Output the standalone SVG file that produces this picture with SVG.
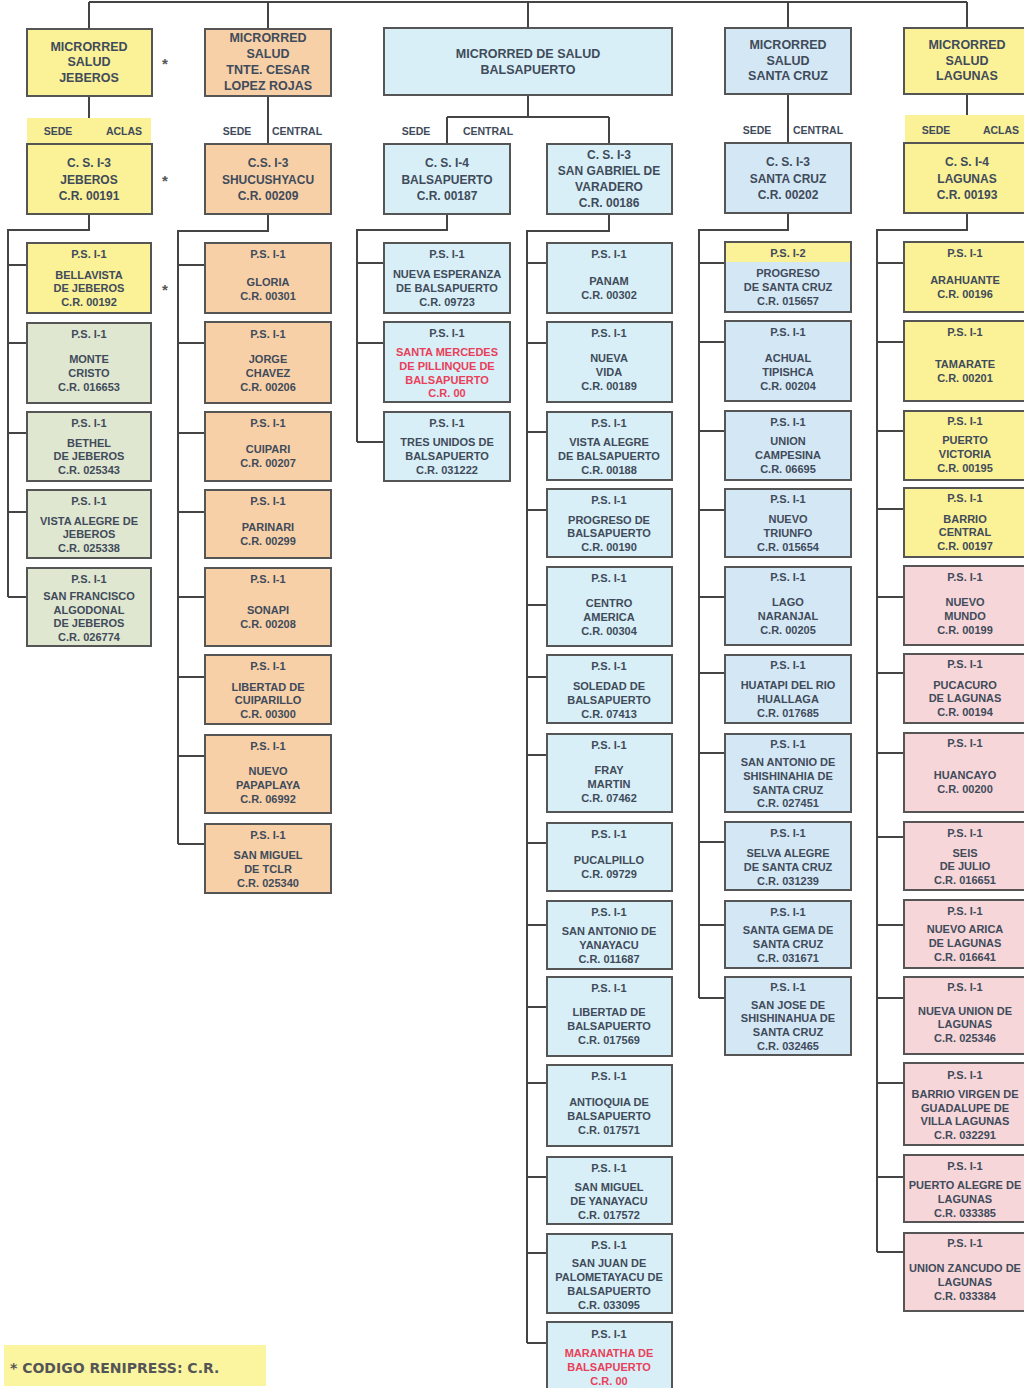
<svg xmlns="http://www.w3.org/2000/svg" width="1024" height="1388" viewBox="0 0 1024 1388">
<style>
text{font-family:"Liberation Sans",Arial,sans-serif;font-weight:bold;fill:#3f4b5a;text-anchor:middle}
.t{font-size:12.5px}.c{font-size:12px}.s{font-size:11px}.l{font-size:10.5px}
.r{fill:#e8405a}
.box{stroke:#555;stroke-width:2}
.y{fill:#fbf197}.o{fill:#f7d0a8}.b{fill:#d8eff7}.z{fill:#d4e7f5}.g{fill:#dfe7d1}.p{fill:#f6d6d9}
.ast{font-size:15px;fill:#555}
#connectors path{fill:none;stroke:#444;stroke-width:2}
</style>
<rect width="1024" height="1388" fill="#fff"/>
<g id="connectors">
<path d="M89 2H967M89 2V29M268 2V29M528 2V28M788 2V28M967 2V28"/>
<path d="M89 96V144M268 96V144M528 95V117M447 117H609M447 117V144M609 117V144M788 94V143M967 94V143"/>
<path d="M89 214V230H8V597M8 265H27M8 343H27M8 433H27M8 512H27M8 597H27"/>
<path d="M268 214V231H178V844M178 265H205M178 343H205M178 433H205M178 512H205M178 597H205M178 677H205M178 756H205M178 844H205"/>
<path d="M447 214V230H357V442M357 263H384M357 343H384M357 442H384"/>
<path d="M609 214V231H527V1343M527 263H547M527 343H547M527 432H547M527 510H547M527 605H547M527 677H547M527 755H547M527 843H547M527 925H547M527 1007H547M527 1083H547M527 1177H547M527 1253H547M527 1343H547"/>
<path d="M788 213V230H699V998M699 263H725M699 342H725M699 431H725M699 510H725M699 597H725M699 673H725M699 753H725M699 842H725M699 925H725M699 998H725"/>
<path d="M967 213V230H877V1252M877 263H904M877 342H904M877 431H904M877 509H904M877 597H904M877 673H904M877 753H904M877 837H904M877 925H904M877 998H904M877 1083H904M877 1177H904M877 1252H904"/>
</g>

<!-- Labels SEDE -->
<g id="sede-jeberos"><rect x="27" y="118" width="124" height="25" class="y"/><text class="l" x="58" y="135">SEDE</text><text class="l" x="124" y="135">ACLAS</text></g>
<g id="sede-tnte"><text class="l" x="237" y="135">SEDE</text><text class="l" x="297" y="135">CENTRAL</text></g>
<g id="sede-balsa"><text class="l" x="416" y="135">SEDE</text><text class="l" x="488" y="135">CENTRAL</text></g>
<g id="sede-santacruz"><text class="l" x="757" y="134">SEDE</text><text class="l" x="818" y="134">CENTRAL</text></g>
<g id="sede-lagunas"><rect x="905" y="115" width="119" height="27" class="y"/><text class="l" x="936" y="134">SEDE</text><text class="l" x="1001" y="134">ACLAS</text></g>
<g id="asterisks"><text class="ast" x="165" y="69">*</text><text class="ast" x="165" y="186">*</text><text class="ast" x="165" y="295">*</text></g>

<!-- Column 1 -->
<g id="mr-jeberos"><rect class="box y" x="27" y="29" width="125" height="67"/><text class="t" x="89" y="51">MICRORRED</text><text class="t" x="89" y="66">SALUD</text><text class="t" x="89" y="82">JEBEROS</text></g>
<g id="cs-jeberos"><rect class="box y" x="27" y="144" width="125" height="70"/><text class="c" x="89" y="167">C. S. I-3</text><text class="c" x="89" y="184">JEBEROS</text><text class="c" x="89" y="200">C.R. 00191</text></g>
<g id="ps-bellavista"><rect class="box y" x="27" y="243" width="124" height="70"/><text class="s" x="89" y="258">P.S. I-1</text><text class="s" x="89" y="279">BELLAVISTA</text><text class="s" x="89" y="292">DE JEBEROS</text><text class="s" x="89" y="306">C.R. 00192</text></g>
<g id="ps-montecristo"><rect class="box g" x="27" y="323" width="124" height="80"/><text class="s" x="89" y="338">P.S. I-1</text><text class="s" x="89" y="363">MONTE</text><text class="s" x="89" y="377">CRISTO</text><text class="s" x="89" y="391">C.R. 016653</text></g>
<g id="ps-bethel"><rect class="box g" x="27" y="412" width="124" height="69"/><text class="s" x="89" y="427">P.S. I-1</text><text class="s" x="89" y="447">BETHEL</text><text class="s" x="89" y="460">DE JEBEROS</text><text class="s" x="89" y="474">C.R. 025343</text></g>
<g id="ps-vistaalegre-j"><rect class="box g" x="27" y="490" width="124" height="68"/><text class="s" x="89" y="505">P.S. I-1</text><text class="s" x="89" y="525">VISTA ALEGRE DE</text><text class="s" x="89" y="538">JEBEROS</text><text class="s" x="89" y="552">C.R. 025338</text></g>
<g id="ps-sanfrancisco"><rect class="box g" x="27" y="568" width="124" height="78"/><text class="s" x="89" y="583">P.S. I-1</text><text class="s" x="89" y="600">SAN FRANCISCO</text><text class="s" x="89" y="614">ALGODONAL</text><text class="s" x="89" y="627">DE JEBEROS</text><text class="s" x="89" y="641">C.R. 026774</text></g>

<!-- Column 2 -->
<g id="mr-tnte"><rect class="box o" x="205" y="29" width="126" height="67"/><text class="t" x="268" y="42">MICRORRED</text><text class="t" x="268" y="58">SALUD</text><text class="t" x="268" y="74">TNTE. CESAR</text><text class="t" x="268" y="90">LOPEZ ROJAS</text></g>
<g id="cs-shucushyacu"><rect class="box o" x="205" y="144" width="126" height="70"/><text class="c" x="268" y="167">C.S. I-3</text><text class="c" x="268" y="184">SHUCUSHYACU</text><text class="c" x="268" y="200">C.R. 00209</text></g>
<g id="ps-gloria"><rect class="box o" x="205" y="243" width="126" height="70"/><text class="s" x="268" y="258">P.S. I-1</text><text class="s" x="268" y="286">GLORIA</text><text class="s" x="268" y="300">C.R. 00301</text></g>
<g id="ps-jorgechavez"><rect class="box o" x="205" y="322" width="126" height="81"/><text class="s" x="268" y="338">P.S. I-1</text><text class="s" x="268" y="363">JORGE</text><text class="s" x="268" y="377">CHAVEZ</text><text class="s" x="268" y="391">C.R. 00206</text></g>
<g id="ps-cuipari"><rect class="box o" x="205" y="412" width="126" height="69"/><text class="s" x="268" y="427">P.S. I-1</text><text class="s" x="268" y="453">CUIPARI</text><text class="s" x="268" y="467">C.R. 00207</text></g>
<g id="ps-parinari"><rect class="box o" x="205" y="490" width="126" height="68"/><text class="s" x="268" y="505">P.S. I-1</text><text class="s" x="268" y="531">PARINARI</text><text class="s" x="268" y="545">C.R. 00299</text></g>
<g id="ps-sonapi"><rect class="box o" x="205" y="568" width="126" height="78"/><text class="s" x="268" y="583">P.S. I-1</text><text class="s" x="268" y="614">SONAPI</text><text class="s" x="268" y="628">C.R. 00208</text></g>
<g id="ps-libertadcuiparillo"><rect class="box o" x="205" y="655" width="126" height="69"/><text class="s" x="268" y="670">P.S. I-1</text><text class="s" x="268" y="691">LIBERTAD DE</text><text class="s" x="268" y="704">CUIPARILLO</text><text class="s" x="268" y="718">C.R. 00300</text></g>
<g id="ps-nuevopapaplaya"><rect class="box o" x="205" y="735" width="126" height="78"/><text class="s" x="268" y="750">P.S. I-1</text><text class="s" x="268" y="775">NUEVO</text><text class="s" x="268" y="789">PAPAPLAYA</text><text class="s" x="268" y="803">C.R. 06992</text></g>
<g id="ps-sanmigueltclr"><rect class="box o" x="205" y="824" width="126" height="69"/><text class="s" x="268" y="839">P.S. I-1</text><text class="s" x="268" y="859">SAN MIGUEL</text><text class="s" x="268" y="873">DE TCLR</text><text class="s" x="268" y="887">C.R. 025340</text></g>

<!-- Column 3 -->
<g id="mr-balsapuerto"><rect class="box b" x="384" y="28" width="288" height="67"/><text class="t" x="528" y="58">MICRORRED DE SALUD</text><text class="t" x="528" y="74">BALSAPUERTO</text></g>
<g id="cs-balsapuerto"><rect class="box b" x="384" y="144" width="126" height="70"/><text class="c" x="447" y="167">C. S. I-4</text><text class="c" x="447" y="184">BALSAPUERTO</text><text class="c" x="447" y="200">C.R. 00187</text></g>
<g id="cs-sangabriel"><rect class="box b" x="547" y="144" width="125" height="70"/><text class="c" x="609" y="159">C. S. I-3</text><text class="c" x="609" y="175">SAN GABRIEL DE</text><text class="c" x="609" y="191">VARADERO</text><text class="c" x="609" y="207">C.R. 00186</text></g>
<g id="ps-nuevaesperanza"><rect class="box b" x="384" y="243" width="126" height="70"/><text class="s" x="447" y="258">P.S. I-1</text><text class="s" x="447" y="278">NUEVA ESPERANZA</text><text class="s" x="447" y="292">DE BALSAPUERTO</text><text class="s" x="447" y="306">C.R. 09723</text></g>
<g id="ps-santamercedes"><rect class="box b" x="384" y="322" width="126" height="80"/><text class="s" x="447" y="337">P.S. I-1</text><text class="s r" x="447" y="356">SANTA MERCEDES</text><text class="s r" x="447" y="370">DE PILLINQUE DE</text><text class="s r" x="447" y="384">BALSAPUERTO</text><text class="s r" x="447" y="397">C.R. 00</text></g>
<g id="ps-tresunidos"><rect class="box b" x="384" y="412" width="126" height="69"/><text class="s" x="447" y="427">P.S. I-1</text><text class="s" x="447" y="446">TRES UNIDOS DE</text><text class="s" x="447" y="460">BALSAPUERTO</text><text class="s" x="447" y="474">C.R. 031222</text></g>

<g id="ps-panam"><rect class="box b" x="547" y="243" width="125" height="70"/><text class="s" x="609" y="258">P.S. I-1</text><text class="s" x="609" y="285">PANAM</text><text class="s" x="609" y="299">C.R. 00302</text></g>
<g id="ps-nuevavida"><rect class="box b" x="547" y="322" width="125" height="80"/><text class="s" x="609" y="337">P.S. I-1</text><text class="s" x="609" y="362">NUEVA</text><text class="s" x="609" y="376">VIDA</text><text class="s" x="609" y="390">C.R. 00189</text></g>
<g id="ps-vistaalegre-b"><rect class="box b" x="547" y="412" width="125" height="68"/><text class="s" x="609" y="427">P.S. I-1</text><text class="s" x="609" y="446">VISTA ALEGRE</text><text class="s" x="609" y="460">DE BALSAPUERTO</text><text class="s" x="609" y="474">C.R. 00188</text></g>
<g id="ps-progreso-b"><rect class="box b" x="547" y="489" width="125" height="68"/><text class="s" x="609" y="504">P.S. I-1</text><text class="s" x="609" y="524">PROGRESO DE</text><text class="s" x="609" y="537">BALSAPUERTO</text><text class="s" x="609" y="551">C.R. 00190</text></g>
<g id="ps-centroamerica"><rect class="box b" x="547" y="567" width="125" height="79"/><text class="s" x="609" y="582">P.S. I-1</text><text class="s" x="609" y="607">CENTRO</text><text class="s" x="609" y="621">AMERICA</text><text class="s" x="609" y="635">C.R. 00304</text></g>
<g id="ps-soledad"><rect class="box b" x="547" y="655" width="125" height="68"/><text class="s" x="609" y="670">P.S. I-1</text><text class="s" x="609" y="690">SOLEDAD DE</text><text class="s" x="609" y="704">BALSAPUERTO</text><text class="s" x="609" y="718">C.R. 07413</text></g>
<g id="ps-fraymartin"><rect class="box b" x="547" y="734" width="125" height="78"/><text class="s" x="609" y="749">P.S. I-1</text><text class="s" x="609" y="774">FRAY</text><text class="s" x="609" y="788">MARTIN</text><text class="s" x="609" y="802">C.R. 07462</text></g>
<g id="ps-pucalpillo"><rect class="box b" x="547" y="823" width="125" height="68"/><text class="s" x="609" y="838">P.S. I-1</text><text class="s" x="609" y="864">PUCALPILLO</text><text class="s" x="609" y="878">C.R. 09729</text></g>
<g id="ps-sanantonio-y"><rect class="box b" x="547" y="901" width="125" height="68"/><text class="s" x="609" y="916">P.S. I-1</text><text class="s" x="609" y="935">SAN ANTONIO DE</text><text class="s" x="609" y="949">YANAYACU</text><text class="s" x="609" y="963">C.R. 011687</text></g>
<g id="ps-libertad-b"><rect class="box b" x="547" y="977" width="125" height="79"/><text class="s" x="609" y="992">P.S. I-1</text><text class="s" x="609" y="1016">LIBERTAD DE</text><text class="s" x="609" y="1030">BALSAPUERTO</text><text class="s" x="609" y="1044">C.R. 017569</text></g>
<g id="ps-antioquia"><rect class="box b" x="547" y="1065" width="125" height="81"/><text class="s" x="609" y="1080">P.S. I-1</text><text class="s" x="609" y="1106">ANTIOQUIA DE</text><text class="s" x="609" y="1120">BALSAPUERTO</text><text class="s" x="609" y="1134">C.R. 017571</text></g>
<g id="ps-sanmiguel-y"><rect class="box b" x="547" y="1157" width="125" height="67"/><text class="s" x="609" y="1172">P.S. I-1</text><text class="s" x="609" y="1191">SAN MIGUEL</text><text class="s" x="609" y="1205">DE YANAYACU</text><text class="s" x="609" y="1219">C.R. 017572</text></g>
<g id="ps-sanjuan"><rect class="box b" x="547" y="1234" width="125" height="79"/><text class="s" x="609" y="1249">P.S. I-1</text><text class="s" x="609" y="1267">SAN JUAN DE</text><text class="s" x="609" y="1281">PALOMETAYACU DE</text><text class="s" x="609" y="1295">BALSAPUERTO</text><text class="s" x="609" y="1309">C.R. 033095</text></g>
<g id="ps-maranatha"><rect class="box b" x="547" y="1322" width="125" height="72"/><text class="s" x="609" y="1338">P.S. I-1</text><text class="s r" x="609" y="1357">MARANATHA DE</text><text class="s r" x="609" y="1371">BALSAPUERTO</text><text class="s r" x="609" y="1385">C.R. 00</text></g>

<!-- Column 4 -->
<g id="mr-santacruz"><rect class="box z" x="725" y="28" width="126" height="66"/><text class="t" x="788" y="49">MICRORRED</text><text class="t" x="788" y="65">SALUD</text><text class="t" x="788" y="80">SANTA CRUZ</text></g>
<g id="cs-santacruz"><rect class="box z" x="725" y="143" width="126" height="70"/><text class="c" x="788" y="166">C. S. I-3</text><text class="c" x="788" y="183">SANTA CRUZ</text><text class="c" x="788" y="199">C.R. 00202</text></g>
<g id="ps-progreso-sc"><rect class="box z" x="725" y="242" width="126" height="70"/><rect x="726" y="243" width="124" height="19" class="y"/><text class="s" x="788" y="257">P.S. I-2</text><text class="s" x="788" y="277">PROGRESO</text><text class="s" x="788" y="291">DE SANTA CRUZ</text><text class="s" x="788" y="305">C.R. 015657</text></g>
<g id="ps-achual"><rect class="box z" x="725" y="321" width="126" height="80"/><text class="s" x="788" y="336">P.S. I-1</text><text class="s" x="788" y="362">ACHUAL</text><text class="s" x="788" y="376">TIPISHCA</text><text class="s" x="788" y="390">C.R. 00204</text></g>
<g id="ps-unioncampesina"><rect class="box z" x="725" y="411" width="126" height="69"/><text class="s" x="788" y="426">P.S. I-1</text><text class="s" x="788" y="445">UNION</text><text class="s" x="788" y="459">CAMPESINA</text><text class="s" x="788" y="473">C.R. 06695</text></g>
<g id="ps-nuevotriunfo"><rect class="box z" x="725" y="489" width="126" height="68"/><text class="s" x="788" y="503">P.S. I-1</text><text class="s" x="788" y="523">NUEVO</text><text class="s" x="788" y="537">TRIUNFO</text><text class="s" x="788" y="551">C.R. 015654</text></g>
<g id="ps-lagonaranjal"><rect class="box z" x="725" y="567" width="126" height="78"/><text class="s" x="788" y="581">P.S. I-1</text><text class="s" x="788" y="606">LAGO</text><text class="s" x="788" y="620">NARANJAL</text><text class="s" x="788" y="634">C.R. 00205</text></g>
<g id="ps-huatapi"><rect class="box z" x="725" y="655" width="126" height="68"/><text class="s" x="788" y="669">P.S. I-1</text><text class="s" x="788" y="689">HUATAPI DEL RIO</text><text class="s" x="788" y="703">HUALLAGA</text><text class="s" x="788" y="717">C.R. 017685</text></g>
<g id="ps-sanantonio-sc"><rect class="box z" x="725" y="734" width="126" height="78"/><text class="s" x="788" y="748">P.S. I-1</text><text class="s" x="788" y="766">SAN ANTONIO DE</text><text class="s" x="788" y="780">SHISHINAHIA DE</text><text class="s" x="788" y="794">SANTA CRUZ</text><text class="s" x="788" y="807">C.R. 027451</text></g>
<g id="ps-selvaalegre"><rect class="box z" x="725" y="822" width="126" height="68"/><text class="s" x="788" y="837">P.S. I-1</text><text class="s" x="788" y="857">SELVA ALEGRE</text><text class="s" x="788" y="871">DE SANTA CRUZ</text><text class="s" x="788" y="885">C.R. 031239</text></g>
<g id="ps-santagema"><rect class="box z" x="725" y="901" width="126" height="67"/><text class="s" x="788" y="916">P.S. I-1</text><text class="s" x="788" y="934">SANTA GEMA DE</text><text class="s" x="788" y="948">SANTA CRUZ</text><text class="s" x="788" y="962">C.R. 031671</text></g>
<g id="ps-sanjose"><rect class="box z" x="725" y="977" width="126" height="78"/><text class="s" x="788" y="991">P.S. I-1</text><text class="s" x="788" y="1009">SAN JOSE DE</text><text class="s" x="788" y="1022">SHISHINAHUA DE</text><text class="s" x="788" y="1036">SANTA CRUZ</text><text class="s" x="788" y="1050">C.R. 032465</text></g>

<!-- Column 5 -->
<g id="mr-lagunas"><rect class="box y" x="904" y="28" width="126" height="66"/><text class="t" x="967" y="49">MICRORRED</text><text class="t" x="967" y="65">SALUD</text><text class="t" x="967" y="80">LAGUNAS</text></g>
<g id="cs-lagunas"><rect class="box y" x="904" y="143" width="126" height="70"/><text class="c" x="967" y="166">C. S. I-4</text><text class="c" x="967" y="183">LAGUNAS</text><text class="c" x="967" y="199">C.R. 00193</text></g>
<g id="ps-arahuante"><rect class="box y" x="904" y="242" width="126" height="70"/><text class="s" x="965" y="257">P.S. I-1</text><text class="s" x="965" y="284">ARAHUANTE</text><text class="s" x="965" y="298">C.R. 00196</text></g>
<g id="ps-tamarate"><rect class="box y" x="904" y="321" width="126" height="80"/><text class="s" x="965" y="336">P.S. I-1</text><text class="s" x="965" y="368">TAMARATE</text><text class="s" x="965" y="382">C.R. 00201</text></g>
<g id="ps-puertovictoria"><rect class="box y" x="904" y="411" width="126" height="69"/><text class="s" x="965" y="425">P.S. I-1</text><text class="s" x="965" y="444">PUERTO</text><text class="s" x="965" y="458">VICTORIA</text><text class="s" x="965" y="472">C.R. 00195</text></g>
<g id="ps-barriocentral"><rect class="box y" x="904" y="488" width="126" height="69"/><text class="s" x="965" y="502">P.S. I-1</text><text class="s" x="965" y="523">BARRIO</text><text class="s" x="965" y="536">CENTRAL</text><text class="s" x="965" y="550">C.R. 00197</text></g>
<g id="ps-nuevomundo"><rect class="box p" x="904" y="566" width="126" height="79"/><text class="s" x="965" y="581">P.S. I-1</text><text class="s" x="965" y="606">NUEVO</text><text class="s" x="965" y="620">MUNDO</text><text class="s" x="965" y="634">C.R. 00199</text></g>
<g id="ps-pucacuro"><rect class="box p" x="904" y="654" width="126" height="69"/><text class="s" x="965" y="668">P.S. I-1</text><text class="s" x="965" y="689">PUCACURO</text><text class="s" x="965" y="702">DE LAGUNAS</text><text class="s" x="965" y="716">C.R. 00194</text></g>
<g id="ps-huancayo"><rect class="box p" x="904" y="733" width="126" height="79"/><text class="s" x="965" y="747">P.S. I-1</text><text class="s" x="965" y="779">HUANCAYO</text><text class="s" x="965" y="793">C.R. 00200</text></g>
<g id="ps-seisdejulio"><rect class="box p" x="904" y="822" width="126" height="68"/><text class="s" x="965" y="837">P.S. I-1</text><text class="s" x="965" y="857">SEIS</text><text class="s" x="965" y="870">DE JULIO</text><text class="s" x="965" y="884">C.R. 016651</text></g>
<g id="ps-nuevoarica"><rect class="box p" x="904" y="900" width="126" height="68"/><text class="s" x="965" y="915">P.S. I-1</text><text class="s" x="965" y="933">NUEVO ARICA</text><text class="s" x="965" y="947">DE LAGUNAS</text><text class="s" x="965" y="961">C.R. 016641</text></g>
<g id="ps-nuevaunion"><rect class="box p" x="904" y="977" width="126" height="77"/><text class="s" x="965" y="991">P.S. I-1</text><text class="s" x="965" y="1015">NUEVA UNION DE</text><text class="s" x="965" y="1028">LAGUNAS</text><text class="s" x="965" y="1042">C.R. 025346</text></g>
<g id="ps-barriovirgen"><rect class="box p" x="904" y="1063" width="126" height="82"/><text class="s" x="965" y="1079">P.S. I-1</text><text class="s" x="965" y="1098">BARRIO VIRGEN DE</text><text class="s" x="965" y="1112">GUADALUPE DE</text><text class="s" x="965" y="1125">VILLA LAGUNAS</text><text class="s" x="965" y="1139">C.R. 032291</text></g>
<g id="ps-puertoalegre"><rect class="box p" x="904" y="1155" width="126" height="67"/><text class="s" x="965" y="1170">P.S. I-1</text><text class="s" x="965" y="1189">PUERTO ALEGRE DE</text><text class="s" x="965" y="1203">LAGUNAS</text><text class="s" x="965" y="1217">C.R. 033385</text></g>
<g id="ps-unionzancudo"><rect class="box p" x="904" y="1233" width="126" height="78"/><text class="s" x="965" y="1247">P.S. I-1</text><text class="s" x="965" y="1272">UNION ZANCUDO DE</text><text class="s" x="965" y="1286">LAGUNAS</text><text class="s" x="965" y="1300">C.R. 033384</text></g>

<!-- Footer -->
<g id="legend"><rect x="4" y="1345" width="262" height="41" fill="#fbf5a0"/><text x="10" y="1373" style="font-family:'DejaVu Sans',Verdana,sans-serif;font-size:14px;text-anchor:start;fill:#555">* CODIGO RENIPRESS: C.R.</text></g>
</svg>
